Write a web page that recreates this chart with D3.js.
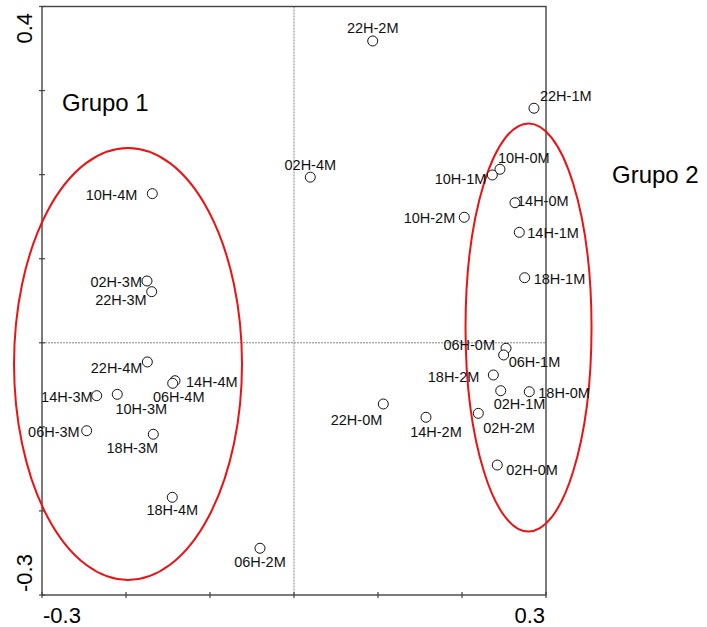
<!DOCTYPE html>
<html>
<head>
<meta charset="utf-8">
<script src="https://cdn.jsdelivr.net/npm/d3@7"></script>
<style>
  html, body { margin: 0; padding: 0; background: #fff; }
  svg { display: block; font-family: "Liberation Sans", Arial, sans-serif; }
</style>
</head>
<body>
<svg id="chart" width="707" height="627"></svg>
<script>
// ---- data ----
const pointLabels = ["22H-2M","22H-1M","02H-4M","10H-0M","10H-1M","14H-0M","10H-2M","14H-1M","18H-1M",
  "06H-0M","06H-1M","18H-2M","02H-1M","18H-0M","02H-2M","14H-2M","02H-0M","22H-0M","06H-2M",
  "10H-4M","02H-3M","22H-3M","22H-4M","14H-4M","06H-4M","14H-3M","10H-3M","06H-3M","18H-3M","18H-4M"];
const xValues = [0.0937,0.2857,0.0194,0.2452,0.2361,0.2631,0.2027,0.2682,0.2746,
  0.2524,0.2496,0.2373,0.2461,0.2801,0.2194,0.1571,0.2420,0.1063,-0.0405,
  -0.1687,-0.1750,-0.1694,-0.1746,-0.1417,-0.1444,-0.2349,-0.2104,-0.2468,-0.1675,-0.1449];
const yValues = [0.359,0.279,0.197,0.2064,0.1996,0.1666,0.1493,0.1314,0.0774,
  -0.0065,-0.0145,-0.0383,-0.0570,-0.0582,-0.0839,-0.0886,-0.1454,-0.0728,-0.2444,
  0.1774,0.0735,0.0608,-0.0228,-0.0451,-0.0482,-0.0629,-0.0613,-0.1046,-0.1088,-0.1838];
const groupNames = ["Grupo 1","Grupo 2"];
const groupCx = [-0.1976, 0.2792];
const groupCy = [-0.0252, 0.0182];
const groupRx = [0.1357, 0.0750];
const groupRy = [0.2569, 0.2427];
const xTickLabels = ["-0.3","0.3"];
const yTickLabels = ["-0.3","0.4"];
const xDomain = [-0.3, 0.3];
const yDomain = [-0.3, 0.4];

// ---- layout (label placement relative to marker) ----
const labelPlacement = {
  "22H-2M":[0,-8,"middle"], "22H-1M":[6,-7,"start"], "02H-4M":[0,-7,"middle"],
  "10H-0M":[-2,-6,"start"], "10H-1M":[-6,9,"end"], "14H-0M":[2,3,"start"],
  "10H-2M":[-9,6,"end"], "14H-1M":[8,6,"start"], "18H-1M":[9,6,"start"],
  "06H-0M":[-11,2,"end"], "06H-1M":[5,12,"start"], "18H-2M":[-14,7,"end"],
  "02H-1M":[-7,18,"start"], "18H-0M":[9,6,"start"], "02H-2M":[5,20,"start"],
  "14H-2M":[10,20,"middle"], "02H-0M":[9,10,"start"], "22H-0M":[-1,21,"end"],
  "06H-2M":[0,19,"middle"], "10H-4M":[-15,6,"end"], "02H-3M":[-5,6,"end"],
  "22H-3M":[-5,13,"end"], "22H-4M":[-5,11,"end"], "14H-4M":[11,6,"start"],
  "06H-4M":[6,19,"middle"], "14H-3M":[-4,6,"end"], "10H-3M":[24,20,"middle"],
  "06H-3M":[-7,6,"end"], "18H-3M":[-21,19,"middle"], "18H-4M":[0,18,"middle"]
};

const svg = d3.select("#chart");
const x = d3.scaleLinear().domain(xDomain).range([42, 546]);
const y = d3.scaleLinear().domain(yDomain).range([595, 6.5]);
const axisColor = "#444";

// zero reference lines
svg.append("line").attr("x1", x(0)).attr("x2", x(0)).attr("y1", y(yDomain[1])).attr("y2", y(yDomain[0]))
  .attr("stroke", "#777").attr("stroke-width", 0.9).attr("stroke-dasharray", "2,1");
svg.append("line").attr("x1", x(xDomain[0])).attr("x2", x(xDomain[1])).attr("y1", y(0)).attr("y2", y(0))
  .attr("stroke", "#777").attr("stroke-width", 0.9).attr("stroke-dasharray", "2,1");

// frame
svg.append("rect").attr("x", x(xDomain[0])).attr("y", y(yDomain[1]))
  .attr("width", x(xDomain[1]) - x(xDomain[0])).attr("height", y(yDomain[0]) - y(yDomain[1]))
  .attr("fill", "none").attr("stroke", axisColor).attr("stroke-width", 1.4);

// ticks (crossing)
const xTicks = d3.range(-3, 4).map(d => d / 10);
const yTicks = d3.range(-3, 5).map(d => d / 10);
svg.append("g").selectAll("line").data(xTicks).join("line")
  .attr("x1", d => x(d)).attr("x2", d => x(d)).attr("y1", y(yDomain[0]) - 3).attr("y2", y(yDomain[0]) + 3)
  .attr("stroke", axisColor).attr("stroke-width", 1.2);
svg.append("g").selectAll("line").data(yTicks).join("line")
  .attr("y1", d => y(d)).attr("y2", d => y(d)).attr("x1", x(xDomain[0]) - 3).attr("x2", x(xDomain[0]) + 3)
  .attr("stroke", axisColor).attr("stroke-width", 1.2);

// tick labels
svg.append("text").attr("x", x(xDomain[0]) + 1).attr("y", 623).attr("text-anchor", "start")
  .attr("font-size", 22).text(xTickLabels[0]);
svg.append("text").attr("x", x(xDomain[1]) - 1).attr("y", 623).attr("text-anchor", "end")
  .attr("font-size", 22).text(xTickLabels[1]);
svg.append("text").attr("transform", `translate(32,${y(yDomain[0]) - 3}) rotate(-90)`)
  .attr("text-anchor", "start").attr("font-size", 22).text(yTickLabels[0]);
svg.append("text").attr("transform", `translate(32,${y(yDomain[1]) + 6.5}) rotate(-90)`)
  .attr("text-anchor", "end").attr("font-size", 22).text(yTickLabels[1]);

// group ellipses
const groups = groupNames.map((n, i) => ({name: n, cx: groupCx[i], cy: groupCy[i], rx: groupRx[i], ry: groupRy[i]}));
svg.append("g").selectAll("ellipse").data(groups).join("ellipse")
  .attr("cx", d => x(d.cx)).attr("cy", d => y(d.cy))
  .attr("rx", d => x(d.rx) - x(0)).attr("ry", d => y(0) - y(d.ry))
  .attr("fill", "none").attr("stroke", "#ee1111").attr("stroke-width", 2);

// group labels
svg.append("text").attr("x", 62).attr("y", 111).attr("font-size", 24).text(groupNames[0]);
svg.append("text").attr("x", 612).attr("y", 183).attr("font-size", 24).text(groupNames[1]);

// points
const pts = pointLabels.map((l, i) => ({label: l, x: xValues[i], y: yValues[i]}));
svg.append("g").selectAll("circle").data(pts).join("circle")
  .attr("cx", d => x(d.x)).attr("cy", d => y(d.y)).attr("r", 5)
  .attr("fill", "#fff").attr("stroke", "#111").attr("stroke-width", 1);

svg.append("g").selectAll("text").data(pts).join("text")
  .attr("x", d => x(d.x) + labelPlacement[d.label][0])
  .attr("y", d => y(d.y) + labelPlacement[d.label][1])
  .attr("text-anchor", d => labelPlacement[d.label][2])
  .attr("font-size", 14.5).attr("fill", "#111")
  .text(d => d.label);
</script>
</body>
</html>
